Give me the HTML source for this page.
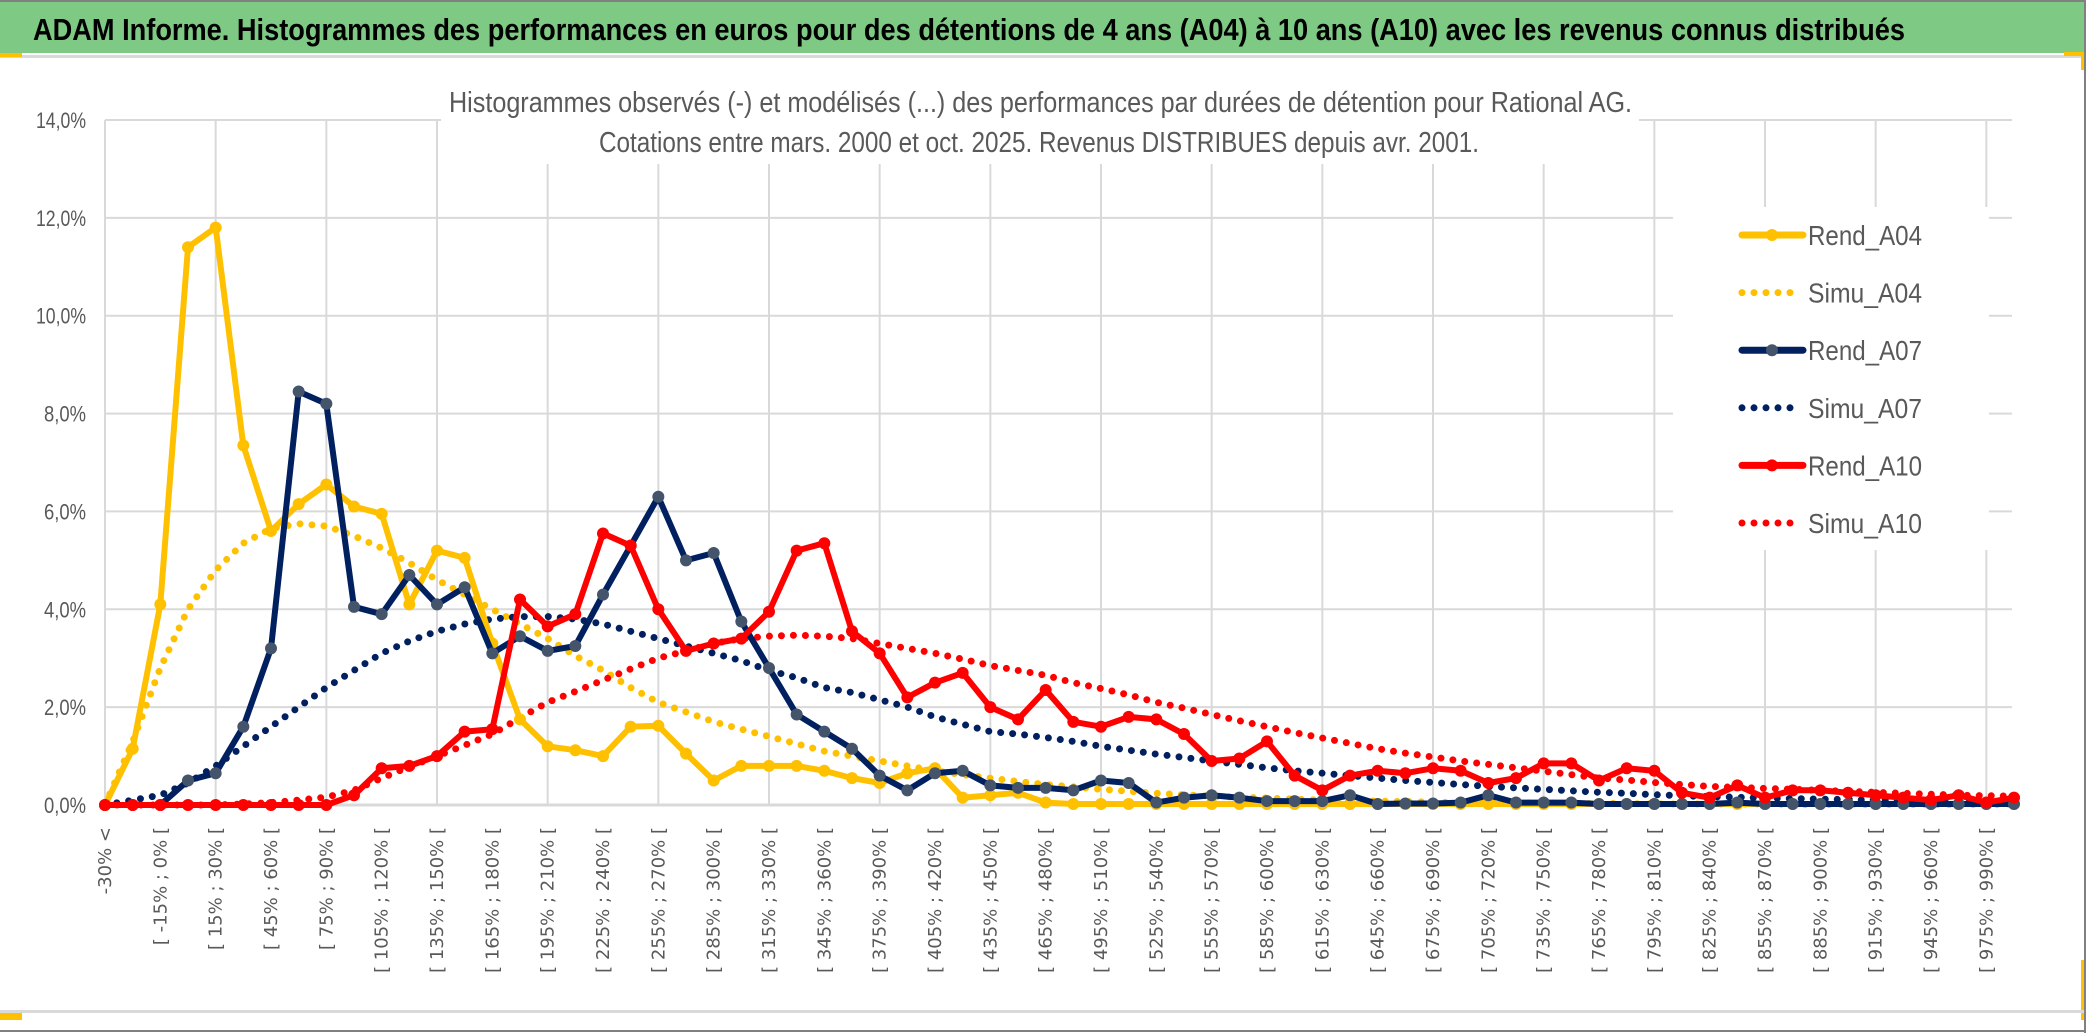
<!DOCTYPE html>
<html><head><meta charset="utf-8"><title>ADAM Informe</title>
<style>
html,body{margin:0;padding:0;background:#fff;}
svg{display:block;}
</style></head>
<body>
<svg id="chart" width="2086" height="1033" viewBox="0 0 2086 1033" xmlns="http://www.w3.org/2000/svg">
  <rect x="0" y="0" width="2086" height="1033" fill="#ffffff"/>
  <rect x="0" y="2" width="2086" height="51" fill="#7ec983"/>
  <line x1="0" y1="1" x2="2086" y2="1" stroke="#808080" stroke-width="2"/>
  <text x="33" y="40" font-family="Liberation Sans, sans-serif" font-weight="bold" font-size="31" fill="#000" textLength="1872" lengthAdjust="spacingAndGlyphs">ADAM Informe. Histogrammes des performances en euros pour des détentions de 4 ans (A04) à 10 ans (A10) avec les revenus connus distribués</text>
  <rect x="0" y="55" width="2086" height="3" fill="#d9d9d9"/>
  <rect x="0" y="53" width="22" height="4" fill="#ffc000"/>
  <rect x="2064" y="52" width="20" height="4" fill="#ffc000"/>
  <rect x="2081" y="52" width="3" height="18" fill="#ffc000"/>
  <rect x="2081" y="960" width="3" height="60" fill="#ffc000"/>
  <rect x="0" y="1013" width="22" height="7" fill="#ffc000"/>
  <rect x="0" y="1010" width="2086" height="3" fill="#d9d9d9"/>
  <line x1="0" y1="1031" x2="2086" y2="1031" stroke="#808080" stroke-width="2"/>
  <line x1="2085" y1="0" x2="2085" y2="1033" stroke="#808080" stroke-width="2"/>
  <g id="grid"></g>
  <rect x="441" y="78" width="1198" height="86" fill="#fff"/>
  <text x="449" y="112" font-family="Liberation Sans, sans-serif" font-size="29" fill="#595959" textLength="1183" lengthAdjust="spacingAndGlyphs">Histogrammes observés (-) et modélisés (...) des performances par durées de détention pour Rational AG.</text>
  <text x="599" y="152" font-family="Liberation Sans, sans-serif" font-size="29" fill="#595959" textLength="880" lengthAdjust="spacingAndGlyphs">Cotations entre mars. 2000 et oct. 2025. Revenus DISTRIBUES depuis avr. 2001.</text>
  <rect x="1673" y="207" width="316" height="343" fill="#fff"/>
  <g id="yaxis"></g>
  <g id="xaxis"></g>
  <g id="series"></g>
  <g id="legend"></g>
</svg>
<script>
const categories = ["-30% <"];
for (let a = -30; a < 990; a += 15) categories.push("[ " + a + "% ; " + (a + 15) + "% [");
categories.push(">= 990%");
const yTicks = [0, 2, 4, 6, 8, 10, 12, 14];
const yTickLabels = ["0,0%", "2,0%", "4,0%", "6,0%", "8,0%", "10,0%", "12,0%", "14,0%"];

const rendA04 = [0,1.15,4.1,11.4,11.8,7.35,5.6,6.15,6.55,6.1,5.95,4.1,5.2,5.05,3.3,1.75,1.2,1.12,1.0,1.6,1.62,1.05,0.5,0.8,0.8,0.8,0.7,0.55,0.45,0.65,0.75,0.15,0.2,0.25,0.05,0.02,0.02,0.02,0.02,0.02,0.02,0.02,0.02,0.02,0.02,0.02,0.02,0.02,0.02,0.02,0.02,0.02,0.02,0.02,0.02,0.02,0.02,0.02,0.02,0.02,0.02,0.02,0.02,0.02,0.02,0.02,0.02,0.02,0.02,0.02];
const simuA04 = [0,1.3,2.8,4.0,4.8,5.35,5.65,5.75,5.7,5.5,5.25,4.95,4.6,4.3,4.0,3.7,3.4,3.05,2.75,2.4,2.1,1.9,1.7,1.55,1.4,1.25,1.1,1.0,0.9,0.8,0.7,0.62,0.55,0.48,0.42,0.37,0.32,0.28,0.24,0.21,0.18,0.16,0.14,0.12,0.1,0.09,0.08,0.07,0.06,0.05,0.05,0.04,0.04,0.03,0.03,0.03,0.02,0.02,0.02,0.02,0.02,0.01,0.01,0.01,0.01,0.01,0.01,0.01,0.01,0.01];
const rendA07 = [0,0,0,0.5,0.65,1.6,3.2,8.45,8.2,4.05,3.9,4.7,4.1,4.45,3.1,3.45,3.15,3.25,4.3,5.3,6.3,5.0,5.15,3.75,2.8,1.85,1.5,1.15,0.6,0.3,0.65,0.7,0.4,0.35,0.35,0.3,0.5,0.45,0.05,0.15,0.2,0.15,0.08,0.08,0.08,0.2,0.02,0.03,0.03,0.05,0.2,0.05,0.05,0.05,0.02,0.02,0.02,0.02,0.02,0.05,0.02,0.02,0.02,0.02,0.02,0.02,0.02,0.02,0.02,0.02];
const simuA07 = [0,0.1,0.2,0.45,0.8,1.2,1.6,2.0,2.4,2.75,3.1,3.35,3.55,3.7,3.8,3.85,3.85,3.8,3.7,3.55,3.4,3.25,3.1,2.95,2.75,2.6,2.4,2.3,2.15,2.0,1.8,1.65,1.5,1.45,1.38,1.3,1.2,1.12,1.04,0.97,0.9,0.83,0.76,0.7,0.65,0.6,0.55,0.5,0.46,0.42,0.38,0.35,0.32,0.29,0.26,0.24,0.21,0.19,0.17,0.16,0.14,0.13,0.12,0.11,0.1,0.09,0.07,0.06,0.06,0.05];
const rendA10 = [0,0,0,0,0,0,0,0,0,0.2,0.75,0.8,1.0,1.5,1.55,4.2,3.65,3.9,5.55,5.3,4.0,3.15,3.3,3.4,3.95,5.2,5.35,3.55,3.1,2.2,2.5,2.7,2.0,1.75,2.35,1.7,1.6,1.8,1.75,1.45,0.9,0.95,1.3,0.6,0.3,0.6,0.7,0.65,0.75,0.7,0.45,0.55,0.85,0.85,0.5,0.75,0.7,0.25,0.15,0.4,0.15,0.3,0.3,0.25,0.2,0.15,0.1,0.2,0.05,0.15];
const simuA10 = [0,0,0,0,0,0.02,0.05,0.1,0.16,0.3,0.55,0.78,1.0,1.22,1.45,1.78,2.1,2.32,2.55,2.78,3.0,3.15,3.3,3.4,3.45,3.47,3.45,3.4,3.3,3.2,3.1,2.98,2.85,2.75,2.65,2.5,2.38,2.25,2.1,1.98,1.85,1.72,1.6,1.48,1.37,1.26,1.15,1.06,0.98,0.9,0.83,0.76,0.69,0.62,0.55,0.51,0.46,0.42,0.38,0.36,0.34,0.32,0.3,0.28,0.26,0.24,0.22,0.2,0.19,0.18];

const NS = "http://www.w3.org/2000/svg";
const X0 = 105, X1 = 2014, Y0 = 805, YTOP = 120, YMAX = 14, GRID_RIGHT = 2012;
const xScale = i => X0 + i * (X1 - X0) / (categories.length - 1);
const yScale = v => Y0 - v / YMAX * (Y0 - YTOP);
function mk(tag, attrs, parent) {
  const e = document.createElementNS(NS, tag);
  for (const k in attrs) e.setAttribute(k, attrs[k]);
  parent.appendChild(e);
  return e;
}
const grid = document.getElementById('grid');
yTicks.forEach((t, k) => {
  const ln = mk('line', {x1: X0, x2: GRID_RIGHT, y1: yScale(t), y2: yScale(t), stroke: '#d9d9d9', 'stroke-width': t === 0 ? 3 : 2}, grid);
  
  
});
for (let i = 0; i < categories.length; i += 4) {
  const ln = mk('line', {x1: xScale(i), x2: xScale(i), y1: YTOP, y2: Y0, stroke: '#d9d9d9', 'stroke-width': 2}, grid);
  
  
}
const yaxis = document.getElementById('yaxis');
yTicks.forEach((t, k) => {
  const tx = mk('text', {x: 86, y: yScale(t) + 8, 'text-anchor': 'end', 'font-family': 'Liberation Sans, sans-serif', 'font-size': 22, fill: '#595959', textLength: yTickLabels[k].length > 4 ? 50 : 42, lengthAdjust: 'spacingAndGlyphs'}, yaxis);
  tx.textContent = yTickLabels[k];
  
  
});
const xaxis = document.getElementById('xaxis');
for (let i = 0; i < categories.length - 1; i += 2) {
  const x = xScale(i) + 6, y = 827;
  const tx = mk('text', {x: x, y: y, transform: `rotate(-90 ${x} ${y})`, 'text-anchor': 'end', 'font-family': 'DejaVu Sans, sans-serif', 'font-size': 18, fill: '#595959'}, xaxis);
  tx.textContent = categories[i];
  
  
}
const series = document.getElementById('series');
function drawDotted(vals, color, name) {
  const pts = vals.map((v, i) => xScale(i).toFixed(1) + ',' + yScale(v).toFixed(1)).join(' ');
  const pl = mk('polyline', {points: pts, fill: 'none', stroke: color, 'stroke-width': 7, 'stroke-linecap': 'round', 'stroke-dasharray': '0 12'}, series);
  
  
}
function drawSolid(vals, color, mcolor, name) {
  const pts = vals.map((v, i) => xScale(i).toFixed(1) + ',' + yScale(v).toFixed(1)).join(' ');
  const pl = mk('polyline', {points: pts, fill: 'none', stroke: color, 'stroke-width': 6, 'stroke-linejoin': 'round'}, series);
  
  
  vals.forEach((v, i) => {
    const c = mk('circle', {cx: xScale(i), cy: yScale(v), r: 6, fill: mcolor}, series);
    
    
  });
}
drawDotted(simuA04, '#ffc000', 'simu-a04-line');
drawDotted(simuA07, '#002060', 'simu-a07-line');
drawDotted(simuA10, '#ff0000', 'simu-a10-line');
drawSolid(rendA04, '#ffc000', '#ffc000', 'rend-a04-line');
drawSolid(rendA07, '#002060', '#44546a', 'rend-a07-line');
drawSolid(rendA10, '#ff0000', '#ff0000', 'rend-a10-line');

const legendNames = ["Rend_A04", "Simu_A04", "Rend_A07", "Simu_A07", "Rend_A10", "Simu_A10"];
const legendColors = ["#ffc000", "#ffc000", "#002060", "#002060", "#ff0000", "#ff0000"];
const legend = document.getElementById('legend');
legendNames.forEach((n, k) => {
  const y = 235 + k * 57.6;
  const solid = n.startsWith('Rend');
  const g = mk('g', {}, legend);
  
  
  if (solid) {
    mk('line', {x1: 1742, x2: 1803, y1: y, y2: y, stroke: legendColors[k], 'stroke-width': 7, 'stroke-linecap': 'round'}, g);
    mk('circle', {cx: 1772, cy: y, r: 6, fill: k === 2 ? '#44546a' : legendColors[k]}, g);
  } else {
    mk('line', {x1: 1742, x2: 1800, y1: y, y2: y, stroke: legendColors[k], 'stroke-width': 7, 'stroke-linecap': 'round', 'stroke-dasharray': '0 12'}, g);
  }
  const tx = mk('text', {x: 1808, y: y + 10, 'font-family': 'Liberation Sans, sans-serif', 'font-size': 28, fill: '#595959', textLength: 114, lengthAdjust: 'spacingAndGlyphs'}, g);
  tx.textContent = n;
});
</script>
</body></html>
